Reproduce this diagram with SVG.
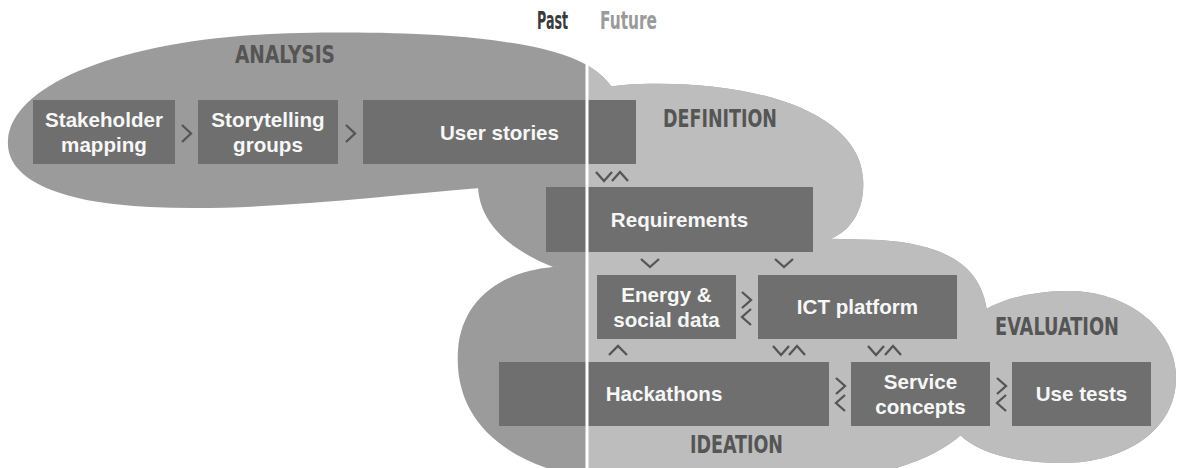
<svg xmlns="http://www.w3.org/2000/svg" xmlns:xlink="http://www.w3.org/1999/xlink" width="1178" height="468" viewBox="0 0 1178 468">
<style>
.box{fill:#6f6f6f}
.bt{font-family:"Liberation Sans",Arial,sans-serif;font-weight:bold;font-size:20.6px;fill:#f7f7f7;text-anchor:middle}
.lab{font-family:"DejaVu Sans Condensed","DejaVu Sans",sans-serif;font-stretch:condensed;font-weight:bold;font-size:24px;fill:#555555}
.chev{fill:none;stroke:#555555;stroke-width:2.3;stroke-linecap:butt;stroke-linejoin:miter}
</style>
<defs>
<g id="blobs">
<path d="M 480,188 C 380,196 260,212 150,207 C 60,203 5,180 8,140 C 12,82 130,36 300,33 C 450,30 545,42 585,64 C 615,80 630,110 620,140 Z"/>
<path d="M 478,180 C 480,125 545,88 640,84 C 750,80 858,110 863,178 C 866,215 845,235 827,240 L 760,262 L 553,267 C 510,250 476,222 478,180 Z"/>
<path d="M 553,267 C 500,272 462,300 458,350 C 454,410 490,455 570,475 L 870,475 C 915,465 945,450 962,434 L 988,320 C 985,268 950,245 880,240 L 800,238 Z"/>
<path d="M 986,309 C 1010,296 1040,291 1070,291 C 1130,292 1176,330 1176,378 C 1176,430 1125,463 1062,463 C 1012,463 978,452 960,435 L 975,360 Z"/>
</g>
<clipPath id="future"><rect x="587" y="0" width="591" height="468"/></clipPath>
</defs>
<g id="regions">
<use xlink:href="#blobs" fill="#9b9b9b"/>
<use xlink:href="#blobs" fill="#bdbdbd" clip-path="url(#future)"/>
</g>
<g id="labels">
<text class="lab" x="235" y="63" textLength="100" lengthAdjust="spacingAndGlyphs">ANALYSIS</text>
<text class="lab" x="663" y="127" textLength="114" lengthAdjust="spacingAndGlyphs">DEFINITION</text>
<text class="lab" x="995" y="335" textLength="124" lengthAdjust="spacingAndGlyphs">EVALUATION</text>
<text class="lab" x="690" y="453" textLength="93" lengthAdjust="spacingAndGlyphs">IDEATION</text>
<text class="lab" x="537" y="29" textLength="31" lengthAdjust="spacingAndGlyphs" style="fill:#3a3a3a;font-size:24px">Past</text>
<text class="lab" x="600" y="29" textLength="57" lengthAdjust="spacingAndGlyphs" style="fill:#9a9a9a;font-size:24px">Future</text>
</g>
<g id="node-stakeholder"><rect class="box" x="33" y="100" width="142" height="64"/><text class="bt" x="104" y="127">Stakeholder</text><text class="bt" x="104" y="152">mapping</text></g>
<g id="node-storytelling"><rect class="box" x="198" y="100" width="140" height="64"/><text class="bt" x="268" y="127">Storytelling</text><text class="bt" x="268" y="152">groups</text></g>
<g id="node-userstories"><rect class="box" x="363" y="100" width="273" height="64"/><text class="bt" x="499.5" y="139.5">User stories</text></g>
<g id="node-requirements"><rect class="box" x="546" y="187" width="267" height="65"/><text class="bt" x="679.5" y="227">Requirements</text></g>
<g id="node-energy"><rect class="box" x="597" y="275" width="139" height="64"/><text class="bt" x="666.5" y="302">Energy &amp;</text><text class="bt" x="666.5" y="327">social data</text></g>
<g id="node-ict"><rect class="box" x="758" y="275" width="199" height="64"/><text class="bt" x="857.5" y="314">ICT platform</text></g>
<g id="node-hackathons"><rect class="box" x="499" y="362" width="330" height="64"/><text class="bt" x="664" y="401">Hackathons</text></g>
<g id="node-service"><rect class="box" x="851" y="362" width="139" height="64"/><text class="bt" x="920.5" y="389">Service</text><text class="bt" x="920.5" y="414">concepts</text></g>
<g id="node-usetests"><rect class="box" x="1012" y="362" width="139" height="64"/><text class="bt" x="1081.5" y="401">Use tests</text></g>
<g id="connectors">
<polyline class="chev" points="182,125 191,133.5 182,142"/>
<polyline class="chev" points="346,125 355,133.5 346,142"/>
<polyline class="chev" points="596,172 604,181 612,172"/>
<polyline class="chev" points="612,181 620,172 628,181"/>
<polyline class="chev" points="641,259 650,267 659,259"/>
<polyline class="chev" points="775,259 784,267 793,259"/>
<polyline class="chev" points="742,292 751,300 742,308"/>
<polyline class="chev" points="751,309 742,317 751,325"/>
<polyline class="chev" points="609,355 618,346 627,355"/>
<polyline class="chev" points="773,346 781,355 789,346"/>
<polyline class="chev" points="789,355 797,346 805,355"/>
<polyline class="chev" points="868,346 876,355 884,346"/>
<polyline class="chev" points="885,355 893,346 901,355"/>
<polyline class="chev" points="836,378 845,386 836,394"/>
<polyline class="chev" points="845,395 836,403 845,411"/>
<polyline class="chev" points="997,378 1006,386 997,394"/>
<polyline class="chev" points="1006,395 997,403 1006,411"/>
</g>
<line x1="587" y1="40" x2="587" y2="468" stroke="#ffffff" stroke-width="3"/>
</svg>
